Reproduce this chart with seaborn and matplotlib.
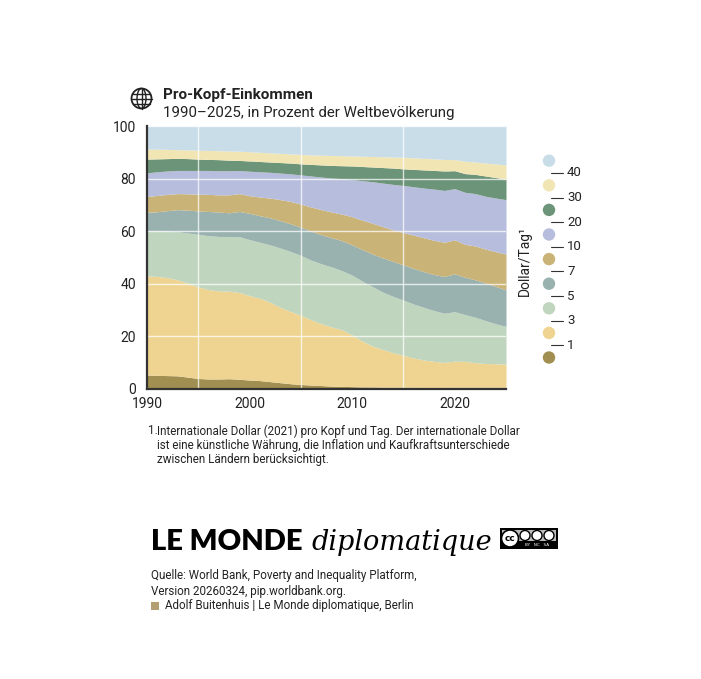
import numpy as np
import matplotlib
matplotlib.use("Agg")
import matplotlib.pyplot as plt
import seaborn as sns
from matplotlib.patches import Circle, Ellipse, Rectangle

# ---------------- data: share of world population below X $/day (cumulative, %) ----
years = list(range(1990, 2026))
below_1 = [5.3, 5.2, 5.1, 5.0, 4.5, 4.0, 3.8, 3.8, 3.9, 3.7,
           3.4, 3.2, 2.8, 2.4, 2.0, 1.7, 1.5, 1.3, 1.1, 1.0,
           0.9, 0.8, 0.8, 0.7, 0.7, 0.7, 0.7, 0.6, 0.6, 0.6,
           0.7, 0.7, 0.7, 0.7, 0.7, 0.7]
below_3 = [43.0, 42.8, 42.3, 41.5, 40.2, 38.8, 37.8, 37.3, 37.2, 36.7,
           35.5, 34.5, 33.0, 31.0, 29.5, 28.0, 26.3, 24.8, 23.6, 22.5,
           20.5, 18.2, 16.3, 15.0, 13.8, 12.8, 11.8, 11.0, 10.5, 10.1,
           10.6, 10.5, 10.0, 9.7, 9.6, 9.5]
below_5 = [60.2, 60.1, 60.0, 59.8, 59.3, 58.8, 58.3, 58.0, 58.0, 57.9,
           56.8, 55.8, 54.8, 53.6, 52.3, 50.8, 49.0, 47.6, 46.4, 45.0,
           43.3, 41.0, 38.9, 36.8, 35.2, 33.8, 32.3, 31.0, 29.8, 28.8,
           29.4, 28.3, 27.3, 26.0, 24.8, 23.8]
below_7 = [67.2, 67.4, 67.8, 68.2, 68.0, 67.7, 67.5, 67.3, 67.0, 67.5,
           66.8, 65.9, 65.1, 64.0, 62.8, 61.5, 60.0, 58.7, 57.5, 56.4,
           54.8, 53.0, 51.3, 49.8, 48.5, 47.2, 45.8, 44.6, 43.5, 42.8,
           43.8, 42.5, 41.5, 40.3, 39.0, 37.7]
below_10 = [73.2, 73.6, 74.0, 74.3, 74.2, 74.1, 74.0, 73.8, 73.8, 74.3,
            73.5, 73.0, 72.6, 72.0, 71.3, 70.3, 69.2, 68.2, 67.3, 66.5,
            65.5, 64.2, 63.0, 61.7, 60.5, 59.5, 58.5, 57.5, 56.5, 55.8,
            56.7, 55.0, 54.4, 53.2, 52.2, 51.3]
below_20 = [82.2, 82.6, 82.9, 83.1, 83.1, 83.1, 83.1, 83.0, 83.0, 83.1,
            82.8, 82.6, 82.4, 82.1, 81.8, 81.4, 81.0, 80.6, 80.2, 80.0,
            79.6, 79.2, 78.8, 78.3, 77.8, 77.4, 76.9, 76.4, 76.0, 75.5,
            76.2, 74.8, 74.3, 73.3, 72.6, 72.0]
below_30 = [87.4, 87.5, 87.6, 87.7, 87.6, 87.4, 87.3, 87.2, 87.0, 86.9,
            86.7, 86.5, 86.3, 86.1, 85.9, 85.6, 85.4, 85.2, 85.0, 84.9,
            84.8, 84.6, 84.4, 84.2, 84.0, 83.7, 83.5, 83.3, 83.1, 82.9,
            83.0, 81.9, 81.6, 81.0, 80.4, 79.8]
below_40 = [91.2, 91.2, 91.1, 91.0, 90.9, 90.8, 90.7, 90.6, 90.5, 90.4,
            90.2, 90.0, 89.8, 89.6, 89.4, 89.2, 89.0, 88.9, 88.8, 88.7,
            88.6, 88.5, 88.4, 88.3, 88.2, 88.1, 87.9, 87.7, 87.5, 87.3,
            87.2, 86.6, 86.3, 85.9, 85.6, 85.2]

thresholds = ["1", "3", "5", "7", "10", "20", "30", "40"]
band_colors = ["#a08f50", "#efd491", "#c0d5be", "#99b2b0", "#cab377",
               "#b7bddc", "#6c9479", "#f1e6b3", "#c9dde8"]
x_tick_labels = ["1990", "2000", "2010", "2020"]
y_tick_labels = ["0", "20", "40", "60", "80", "100"]

# ---------------- style ----------------
sns.set_theme(style="white")
COND = ['Liberation Sans Narrow', 'DejaVu Sans Condensed', 'Roboto', 'DejaVu Sans']
plt.rcParams['font.family'] = COND
plt.rcParams['text.color'] = '#222222'
TXT = '#222222'

W, H = 701, 679
fig = plt.figure(figsize=(W / 100, H / 100), dpi=100)
fig.patch.set_facecolor('white')

ax = fig.add_axes([147 / W, 1 - 389 / H, (506 - 147) / W, (389 - 126) / H])
ax.set_facecolor('white')

bounds = [np.zeros(len(years)), below_1, below_3, below_5, below_7,
          below_10, below_20, below_30, below_40, np.full(len(years), 100.0)]
for i in range(len(band_colors)):
    ax.fill_between(years, bounds[i], bounds[i + 1], color=band_colors[i],
                    lw=0, zorder=1)

ax.set_xlim(1990, 2025)
ax.set_ylim(0, 100)
ax.set_xticks([int(t) for t in x_tick_labels])
ax.set_xticklabels(x_tick_labels)
ax.set_xticks(range(1995, 2025, 5), minor=True)
ax.set_yticks([int(t) for t in y_tick_labels])
ax.set_yticklabels(y_tick_labels)
ax.set_axisbelow(False)
ax.grid(False)
ax.grid(which='minor', axis='x', color='white', alpha=0.75, lw=1.0, zorder=3)
ax.grid(which='major', axis='y', color='white', alpha=0.75, lw=1.0, zorder=3)
ax.tick_params(axis='both', which='both', length=0, labelsize=10, colors=TXT)
ax.tick_params(axis='y', pad=8)
ax.tick_params(axis='x', pad=6)
sns.despine(ax=ax, top=True, right=True)
for s in ['left', 'bottom']:
    ax.spines[s].set_color('#333333')
    ax.spines[s].set_linewidth(1.6)
    ax.spines[s].set_zorder(5)

# ---------------- overlay in pixel coordinates ----------------
oax = fig.add_axes([0, 0, 1, 1], zorder=10)
oax.set_xlim(0, W)
oax.set_ylim(H, 0)
oax.axis('off')
oax.patch.set_alpha(0)

# globe icon
gx, gy, gr = 141.5, 98.5, 10
oax.add_patch(Circle((gx, gy), gr, fill=False, ec=TXT, lw=1.3))
oax.add_patch(Ellipse((gx, gy), 9, 2 * gr, fill=False, ec=TXT, lw=1.0))
oax.plot([gx, gx], [gy - gr, gy + gr], color=TXT, lw=1.0)
for d in (-5, 0, 5):
    hw = np.sqrt(gr ** 2 - d ** 2)
    oax.plot([gx - hw, gx + hw], [gy + d, gy + d], color=TXT, lw=1.0)

# titles
oax.text(163, 95.5, "Pro-Kopf-Einkommen", fontsize=11, fontweight='bold',
         ha='left', va='center', color=TXT)
oax.text(163, 113, "1990–2025, in Prozent der Weltbevölkerung", fontsize=10.8,
         ha='left', va='center', color=TXT)

# legend
for i, col in enumerate(reversed(band_colors)):
    oax.add_patch(Circle((549, 160.7 + i * 24.6), 6.2, color=col, lw=0))
for j, t in enumerate(reversed(thresholds)):
    yy = 173.0 + j * 24.6
    oax.plot([551, 563], [yy, yy], color='#333333', lw=0.8)
    oax.text(567, yy, t, fontsize=9.5, ha='left', va='center', color=TXT)
oax.text(525, 261, "Dollar/Tag¹", rotation=90, fontsize=10, ha='center',
         va='center', color=TXT)

# footnote
fn = ["Internationale Dollar (2021) pro Kopf und Tag. Der internationale Dollar",
      "ist eine künstliche Währung, die Inflation und Kaufkraftsunterschiede",
      "zwischen Ländern berücksichtigt."]
oax.text(148, 431, "1.", fontsize=8.4, ha='left', va='center', color=TXT)
for k, line in enumerate(fn):
    oax.text(157, 431 + k * 14.5, line, fontsize=8.4, ha='left', va='center',
             color=TXT)

# logo
oax.text(151, 550, "LE MONDE", fontsize=21, fontweight='heavy',
         family=['Lato', 'DejaVu Sans'], ha='left', va='baseline', color='black')
oax.text(311, 550, "diplomatique", fontsize=19.5, style='italic',
         family=['DejaVu Serif', 'Liberation Serif'], ha='left', va='baseline',
         color='black')

# cc badge
oax.add_patch(Rectangle((500, 528), 58, 21, color='black', lw=0))
oax.add_patch(Rectangle((502, 530), 54, 11, color='#bbbbbb', lw=0))
oax.add_patch(Circle((510, 538.5), 8.5, fc='white', ec='black', lw=1.2))
oax.text(510, 538.8, "cc", fontsize=6.5, fontweight='bold', ha='center',
         va='center', color='black', family=['DejaVu Sans'])
for cx in (525, 537, 549):
    oax.add_patch(Circle((cx, 535.5), 5, fc='white', ec='black', lw=1.0))
oax.text(537, 545.5, "BY   NC   SA", fontsize=3, ha='center', va='center',
         color='white', family=['DejaVu Sans'])

# source
oax.text(151, 576, "Quelle: World Bank, Poverty and Inequality Platform,",
         fontsize=8.4, ha='left', va='center', color=TXT)
oax.text(151, 591, "Version 20260324, pip.worldbank.org.",
         fontsize=8.4, ha='left', va='center', color=TXT)
oax.add_patch(Rectangle((151, 601.5), 8, 8, color='#b39f72', lw=0))
oax.text(165, 606, "Adolf Buitenhuis | Le Monde diplomatique, Berlin",
         fontsize=8.4, ha='left', va='center', color=TXT)

fig.savefig("out.png", dpi=100, facecolor='white')
